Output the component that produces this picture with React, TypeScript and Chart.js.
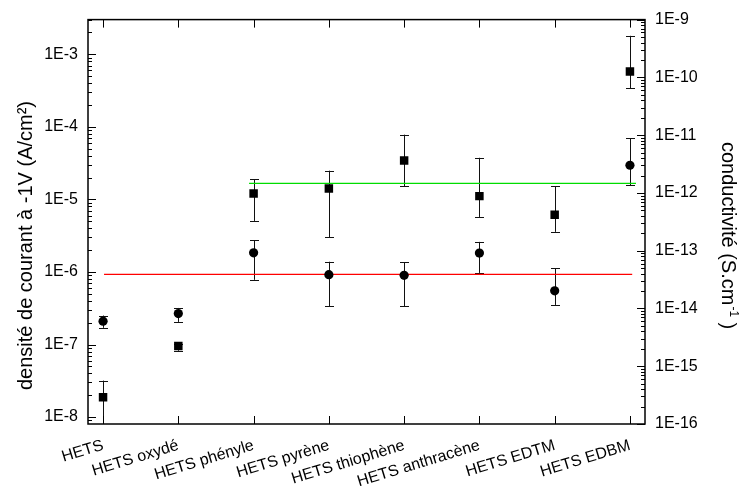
import React, { useEffect, useRef } from 'react';
import { Chart, registerables } from 'chart.js';

Chart.register(...registerables);

// ---- data ----
const categories = [
  'HETS',
  'HETS oxydé',
  'HETS phényle',
  'HETS pyrène',
  'HETS thiophène',
  'HETS anthracène',
  'HETS EDTM',
  'HETS EDBM',
];
const categoryIndex = categories.map((_, i) => i);

// current density at -1V (A/cm²), squares, left axis
const currentDensity = [1.87e-8, 9.55e-8, 1.21e-5, 1.41e-5, 3.44e-5, 1.11e-5, 6.15e-6, 5.8e-4];
const currentHigh = [3.18e-8, 1.02e-7, 1.91e-5, 2.49e-5, 7.81e-5, 3.75e-5, 1.52e-5, 1.8e-3];
const currentLow = [1e-9, 8.2e-8, 5.05e-6, 2.99e-6, 1.52e-5, 5.73e-6, 3.57e-6, 3.4e-4];

// conductivity (S/cm), circles, right axis
const conductivity = [6.03e-15, 8.17e-15, 9.18e-14, 3.85e-14, 3.75e-14, 9.08e-14, 2.02e-14, 3.01e-12];
const conductivityHigh = [7.54e-15, 1.02e-14, 1.52e-13, 6.44e-14, 6.27e-14, 1.42e-13, 4.94e-14, 8.87e-12];
const conductivityLow = [4.62e-15, 5.85e-15, 3.13e-14, 1.1e-14, 1.1e-14, 4.12e-14, 1.15e-14, 1.36e-12];

// mean lines
const currentMean = 1.66e-5;
const currentMeanSpan = [1.94, 7.08];
const conductivityMean = 3.9e-14;
const conductivityMeanSpan = [0.013, 7.03];

// axis ranges and tick labels
const xRange = [-0.2, 7.2];
const leftRange = [8.02e-9, 3.01e-3];
const rightRange = [1e-16, 1e-9];
const leftTickValues = [1e-8, 1e-7, 1e-6, 1e-5, 1e-4, 1e-3];
const rightTickValues = [1e-16, 1e-15, 1e-14, 1e-13, 1e-12, 1e-11, 1e-10, 1e-9];

const FONT = "'Liberation Sans', Arial, Helvetica, sans-serif";

const fmtExp = (v: number) => '1E' + Math.round(Math.log10(v));

export default function App() {
  const ref = useRef<HTMLCanvasElement>(null);

  useEffect(() => {
    const canvas = ref.current;
    if (!canvas) return;

    const line = (ctx: CanvasRenderingContext2D, x1: number, y1: number, x2: number, y2: number) => {
      ctx.beginPath();
      ctx.moveTo(x1, y1);
      ctx.lineTo(x2, y2);
      ctx.stroke();
    };

    const errorBars = {
      id: 'errorBars',
      beforeDatasetsDraw(chart: any) {
        const { ctx, chartArea } = chart;
        const xs = chart.scales.x;
        ctx.save();
        ctx.beginPath();
        ctx.rect(chartArea.left, chartArea.top, chartArea.right - chartArea.left, chartArea.bottom - chartArea.top);
        ctx.clip();
        ctx.strokeStyle = '#111';
        ctx.lineWidth = 1;
        const draw = (scale: any, lo: number[], hi: number[]) => {
          categoryIndex.forEach((i) => {
            const px = Math.round(xs.getPixelForValue(i)) + 0.5;
            const yl = scale.getPixelForValue(lo[i]);
            const yh = scale.getPixelForValue(hi[i]);
            line(ctx, px, yl, px, yh);
            line(ctx, px - 4.5, Math.round(yh) + 0.5, px + 4.5, Math.round(yh) + 0.5);
            line(ctx, px - 4.5, Math.round(yl) + 0.5, px + 4.5, Math.round(yl) + 0.5);
          });
        };
        draw(chart.scales.y, currentLow, currentHigh);
        draw(chart.scales.y2, conductivityLow, conductivityHigh);
        ctx.restore();
      },
    };

    const frame = {
      id: 'frame',
      afterDraw(chart: any) {
        const { ctx, chartArea } = chart;
        const { left, right, top, bottom } = chartArea;
        const xs = chart.scales.x;
        ctx.save();
        ctx.strokeStyle = '#000';
        ctx.lineWidth = 1;
        categoryIndex.forEach((i) => {
          const px = Math.round(xs.getPixelForValue(i)) + 0.5;
          line(ctx, px, bottom, px, bottom - 8);
          line(ctx, px, top, px, top + 8);
        });
        const logTicks = (scale: any, range: number[], edge: number, dir: number) => {
          const d0 = Math.floor(Math.log10(range[0]));
          const d1 = Math.ceil(Math.log10(range[1]));
          for (let d = d0; d <= d1; d++) {
            for (let k = 1; k <= 9; k++) {
              const v = k * Math.pow(10, d);
              if (v < range[0] * 0.999 || v > range[1] * 1.001) continue;
              const py = Math.round(scale.getPixelForValue(v)) + 0.5;
              const len = k === 1 ? 8 : 4;
              line(ctx, edge, py, edge + dir * len, py);
            }
          }
        };
        logTicks(chart.scales.y, leftRange, left, 1);
        logTicks(chart.scales.y2, rightRange, right, -1);
        ctx.lineWidth = 1.5;
        ctx.strokeRect(left, top, right - left, bottom - top);

        // axis titles
        ctx.fillStyle = '#000';
        ctx.font = `20px ${FONT}`;
        ctx.save();
        ctx.translate(31.5, 245.5);
        ctx.rotate(-Math.PI / 2);
        ctx.textAlign = 'center';
        ctx.textBaseline = 'alphabetic';
        ctx.fillText('densité de courant à -1V (A/cm²)', 0, 0);
        ctx.restore();

        ctx.save();
        ctx.translate(722, 142);
        ctx.rotate(Math.PI / 2);
        ctx.textAlign = 'left';
        ctx.textBaseline = 'alphabetic';
        const part1 = 'conductivité (S.cm';
        ctx.font = `20px ${FONT}`;
        ctx.fillText(part1, 0, 0);
        const w1 = ctx.measureText(part1).width;
        ctx.font = `12px ${FONT}`;
        ctx.fillText('-1', w1 + 1, -8);
        const w2 = ctx.measureText('-1').width;
        ctx.font = `20px ${FONT}`;
        ctx.fillText(' )', w1 + 1 + w2, 0);
        ctx.restore();

        ctx.restore();
      },
    };

    const chart = new Chart(canvas, {
      type: 'scatter',
      data: {
        datasets: [
          {
            label: 'densité de courant',
            data: categoryIndex.map((i) => ({ x: i, y: currentDensity[i] })),
            yAxisID: 'y',
            pointStyle: 'rect',
            pointRadius: 6,
            backgroundColor: '#000',
            borderColor: '#000',
            borderWidth: 0,
            showLine: false,
          },
          {
            label: 'conductivité',
            data: categoryIndex.map((i) => ({ x: i, y: conductivity[i] })),
            yAxisID: 'y2',
            pointStyle: 'circle',
            pointRadius: 4.6,
            backgroundColor: '#000',
            borderColor: '#000',
            borderWidth: 0,
            showLine: false,
          },
          {
            label: 'moyenne densité',
            data: currentMeanSpan.map((x) => ({ x, y: currentMean })),
            yAxisID: 'y',
            showLine: true,
            pointRadius: 0,
            borderColor: '#00dd00',
            borderWidth: 1.2,
          },
          {
            label: 'moyenne conductivité',
            data: conductivityMeanSpan.map((x) => ({ x, y: conductivityMean })),
            yAxisID: 'y2',
            showLine: true,
            pointRadius: 0,
            borderColor: '#ff0000',
            borderWidth: 1.3,
          },
        ],
      },
      options: {
        responsive: false,
        animation: false,
        devicePixelRatio: 1,
        layout: { padding: { top: 16, left: 0, right: 0, bottom: 0 } },
        plugins: { legend: { display: false }, tooltip: { enabled: false } },
        scales: {
          x: {
            type: 'linear',
            position: 'bottom',
            min: xRange[0],
            max: xRange[1],
            afterBuildTicks: (s: any) => {
              s.ticks = categoryIndex.map((v) => ({ value: v }));
            },
            afterFit: (s: any) => {
              s.height = 73;
            },
            grid: { display: false, drawTicks: false },
            border: { display: false },
            ticks: {
              callback: (v: any) => categories[Math.round(Number(v))],
              minRotation: 17,
              maxRotation: 17,
              autoSkip: false,
              padding: 12,
              color: '#000',
              font: { family: FONT, size: 16 },
            },
          },
          y: {
            type: 'logarithmic',
            position: 'left',
            min: leftRange[0],
            max: leftRange[1],
            afterBuildTicks: (s: any) => {
              s.ticks = leftTickValues.map((v) => ({ value: v }));
            },
            afterFit: (s: any) => {
              s.width = 88;
            },
            grid: { display: false, drawTicks: false },
            border: { display: false },
            ticks: {
              callback: (v: any) => fmtExp(Number(v)),
              padding: 10,
              color: '#000',
              font: { family: FONT, size: 16 },
            },
          },
          y2: {
            type: 'logarithmic',
            position: 'right',
            min: rightRange[0],
            max: rightRange[1],
            afterBuildTicks: (s: any) => {
              s.ticks = rightTickValues.map((v) => ({ value: v }));
            },
            afterFit: (s: any) => {
              s.width = 95;
            },
            grid: { display: false, drawTicks: false },
            border: { display: false },
            ticks: {
              callback: (v: any) => fmtExp(Number(v)),
              padding: 10,
              color: '#000',
              font: { family: FONT, size: 16 },
            },
          },
        },
      } as any,
      plugins: [errorBars, frame],
    });

    return () => chart.destroy();
  }, []);

  return (
    <div style={{ position: 'absolute', left: 0, top: 0, width: 740, height: 497, background: '#fff' }}>
      <canvas ref={ref} width={740} height={497} style={{ display: 'block', width: 740, height: 497 }} />
    </div>
  );
}
